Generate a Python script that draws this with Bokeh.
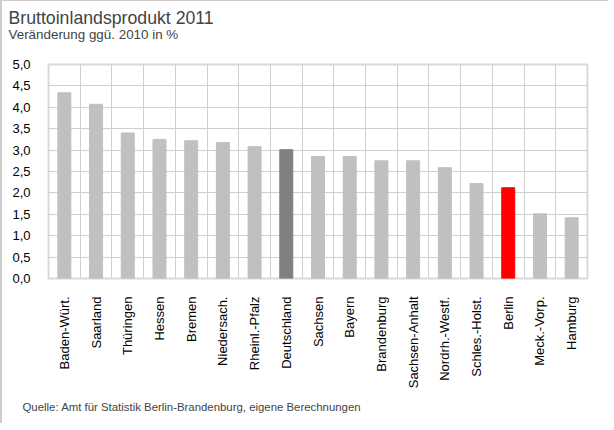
from math import pi
from bokeh.plotting import figure
from bokeh.models import Title, FixedTicker, Range1d, ColumnDataSource
from bokeh.embed import file_html
from bokeh.resources import INLINE

# ---- data ----
states = ["Baden-Würt.", "Saarland", "Thüringen", "Hessen", "Bremen",
          "Niedersach.", "Rheinl.-Pfalz", "Deutschland", "Sachsen", "Bayern",
          "Brandenburg", "Sachsen-Anhalt", "Nordrh.-Westf.", "Schles.-Holst.",
          "Berlin", "Meck.-Vorp.", "Hamburg"]
growth = [4.34, 4.07, 3.40, 3.25, 3.22, 3.18, 3.08, 3.01, 2.85, 2.85,
          2.75, 2.75, 2.59, 2.22, 2.12, 1.51, 1.42]
y_ticks = [0.0, 0.5, 1.0, 1.5, 2.0, 2.5, 3.0, 3.5, 4.0, 4.5, 5.0]
y_tick_labels = ["0,0", "0,5", "1,0", "1,5", "2,0", "2,5", "3,0", "3,5",
                 "4,0", "4,5", "5,0"]
title_text = "Bruttoinlandsprodukt  2011"
subtitle_text = "Veränderung  ggü. 2010 in %"
source_text = "Quelle: Amt für Statistik Berlin-Brandenburg,  eigene Berechnungen"

highlight = {"Deutschland": "#808080", "Berlin": "#ff0000"}
colors = [highlight.get(s, "#c0c0c0") for s in states]
xpos = [i + 0.5 for i in range(len(states))]

FONT = "Liberation Sans"

src = ColumnDataSource(dict(x=xpos, top=growth, color=colors, name=states))

p = figure(width=606, height=422, output_backend="svg", toolbar_location=None,
           title=None,
           x_range=Range1d(0, len(states)), y_range=Range1d(0, 5),
           min_border_left=46, min_border_right=21, min_border_top=63,
           min_border_bottom=145, frame_width=539, frame_height=214)
p.styles = {"border-left": "2px solid #cccccc", "border-top": "1px solid #cccccc"}

p.vbar(x="x", top="top", bottom=0, width=0.41, color="color", source=src)

# axes
p.yaxis.ticker = FixedTicker(ticks=y_ticks)
p.yaxis.major_label_overrides = dict(zip(y_ticks, y_tick_labels))
p.xaxis.ticker = FixedTicker(ticks=xpos)
p.xaxis.major_label_overrides = dict(zip(xpos, states))
p.xaxis.major_label_orientation = pi / 2
for ax in (p.xaxis[0], p.yaxis[0]):
    ax.axis_line_color = None
    ax.major_tick_line_color = None
    ax.minor_tick_line_color = None
    ax.major_label_text_font = FONT
    ax.major_label_text_font_size = "13px"
    ax.major_label_text_color = "#000000"
p.yaxis.major_label_standoff = 12
p.xaxis.major_label_standoff = 12

# grid
p.ygrid.ticker = FixedTicker(ticks=y_ticks)
p.xgrid.ticker = FixedTicker(ticks=list(range(len(states) + 1)))
for g in (p.xgrid[0], p.ygrid[0]):
    g.grid_line_color = "#cfcfcf"
    g.grid_line_width = 1
p.outline_line_color = "#d9d9d9"
p.outline_line_width = 2

# texts
sub = Title(text=subtitle_text, align="left", offset=-40, standoff=45,
            text_font=FONT, text_font_size="13.4px", text_font_style="normal")
main = Title(text=title_text, align="left", offset=-40, standoff=-50,
             text_font=FONT, text_font_size="17.7px", text_font_style="normal")
foot = Title(text=source_text, align="left", offset=-26, standoff=15,
             text_font=FONT, text_font_size="11.4px", text_font_style="normal")
p.add_layout(sub, "above")
p.add_layout(main, "above")
p.add_layout(foot, "below")

open("out.html", "w").write(file_html(p, INLINE))
